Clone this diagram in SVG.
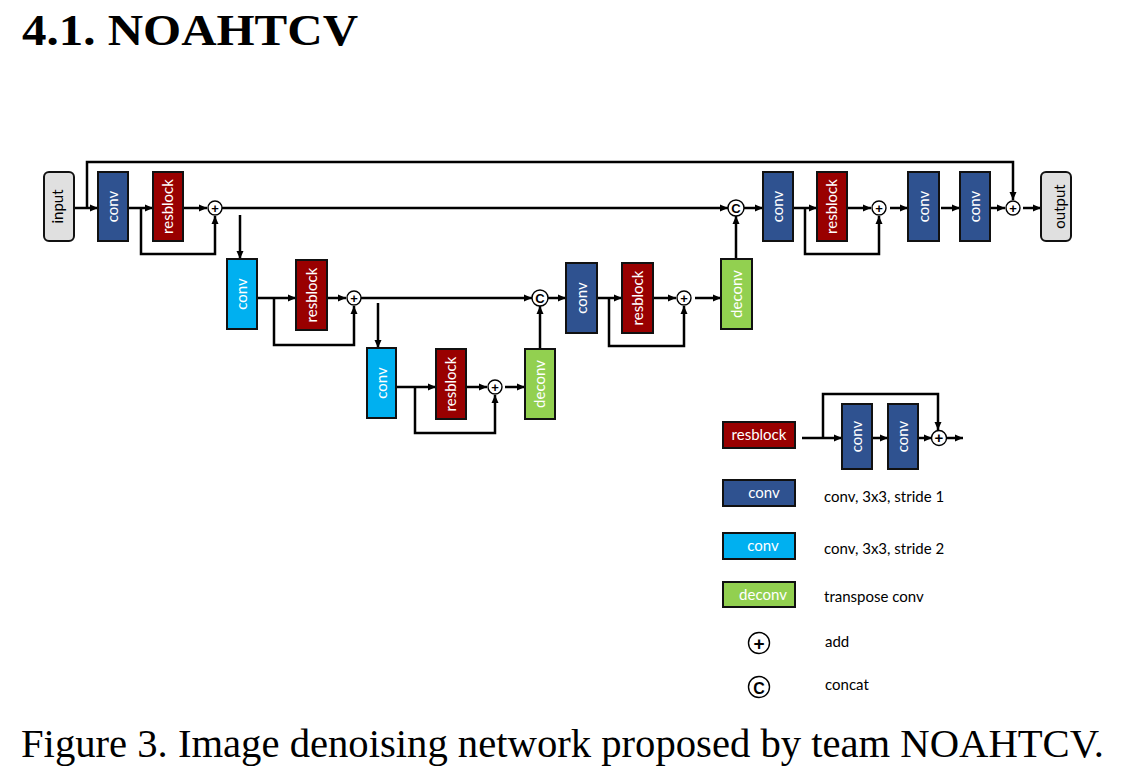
<svg xmlns="http://www.w3.org/2000/svg" width="1121" height="781" viewBox="0 0 1121 781">
<style>
.box{stroke:#111;stroke-width:2}
.conv{fill:#2f5290}
.conv2{fill:#00b0f0}
.res{fill:#990000}
.deconv{fill:#92d050}
.io{fill:#e0e0e0}
.lbl{font-family:Lato,"Open Sans",sans-serif;font-size:15px;fill:#fff;text-anchor:middle}
.lblk{font-family:Lato,"Open Sans",sans-serif;font-size:15px;fill:#000;text-anchor:middle}
.op{fill:#fff;stroke:#000;stroke-width:1.4}
.opt{font-family:"Liberation Sans",Arial,sans-serif;font-weight:bold;font-size:13px;fill:#000;text-anchor:middle}
.optL{font-family:"Liberation Sans",Arial,sans-serif;font-weight:bold;font-size:19px;fill:#000;text-anchor:middle}
.legt{font-family:Lato,"Open Sans",sans-serif;font-size:15px;fill:#000}
.serif{font-family:"Liberation Serif","Times New Roman",serif;fill:#000}
.wire{fill:none;stroke:#000;stroke-width:2.5}
.arr{marker-end:url(#ah)}
</style>
<defs>
<marker id="ah" viewBox="0 0 8 8" refX="8" refY="4" markerWidth="8" markerHeight="8" markerUnits="userSpaceOnUse" orient="auto">
<path d="M0,0.5 L8,4 L0,7.5 z" fill="#000"/>
</marker>
</defs>
<rect width="1121" height="781" fill="#fff"/>

<text class="serif" x="22" y="45" style="font-weight:bold;font-size:44px" textLength="336" lengthAdjust="spacingAndGlyphs">4.1. NOAHTCV</text>

<g id="connectors">
<path class="wire arr" d="M74,208 H98"/>
<path class="wire arr" d="M87,208 V162 H1013 V200"/>
<path class="wire arr" d="M128,208 H153"/>
<path class="wire arr" d="M141,208 V254 H215 V216"/>
<path class="wire arr" d="M183,208 H207"/>
<path class="wire arr" d="M222,208 H728"/>
<path class="wire arr" d="M240,215 V259"/>
<path class="wire arr" d="M744,208 H763"/>
<path class="wire arr" d="M793,208 H817"/>
<path class="wire arr" d="M805,208 V254 H879 V216"/>
<path class="wire arr" d="M847,208 H871"/>
<path class="wire arr" d="M890,208 H908"/>
<path class="wire arr" d="M941,208 H960"/>
<path class="wire arr" d="M989,208 H1005"/>
<path class="wire arr" d="M1023,208 H1041"/>
<path class="wire arr" d="M736,259 V216"/>
<path class="wire arr" d="M257,298 H296"/>
<path class="wire arr" d="M274,298 V345 H354 V306"/>
<path class="wire arr" d="M327,298 H346"/>
<path class="wire arr" d="M361,298 H532"/>
<path class="wire arr" d="M378,303 V348"/>
<path class="wire arr" d="M548,298 H566"/>
<path class="wire arr" d="M597,298 H622"/>
<path class="wire arr" d="M609,298 V346 H684 V306"/>
<path class="wire arr" d="M653,298 H676"/>
<path class="wire arr" d="M695,298 H721"/>
<path class="wire arr" d="M540,349 V306"/>
<path class="wire arr" d="M396,387 H436"/>
<path class="wire arr" d="M415,387 V433 H495 V395"/>
<path class="wire arr" d="M466,387 H487"/>
<path class="wire arr" d="M505,387 H525"/>
<path class="wire arr" d="M802,438 H842"/>
<path class="wire arr" d="M823,438 V394 H938 V430"/>
<path class="wire arr" d="M872,438 H888"/>
<path class="wire arr" d="M918,438 H932"/>
<path class="wire arr" d="M946,438 H963"/>
</g>

<g id="input"><rect class="box io" x="44" y="172" width="30" height="69" rx="5"/><text class="lblk" transform="translate(59,206.5) rotate(-90)" y="4">input</text></g>
<g id="conv1"><rect class="box conv" x="98" y="172" width="30" height="69"/><text class="lbl" transform="translate(113,206.5) rotate(-90)" y="5">conv</text></g>
<g id="resblock1"><rect class="box res" x="153" y="172" width="30" height="69"/><text class="lbl" transform="translate(168,206.5) rotate(-90)" y="5">resblock</text></g>
<g id="add1"><circle class="op" cx="215" cy="208" r="7"/><text class="opt" x="215" y="212.5">+</text></g>

<g id="conv2"><rect class="box conv2" x="227" y="259" width="30" height="70"/><text class="lbl" transform="translate(242,294) rotate(-90)" y="5">conv</text></g>
<g id="resblock2"><rect class="box res" x="296" y="260" width="31" height="70"/><text class="lbl" transform="translate(311.5,295) rotate(-90)" y="5">resblock</text></g>
<g id="add2"><circle class="op" cx="354" cy="298" r="7"/><text class="opt" x="354" y="302.5">+</text></g>

<g id="conv3"><rect class="box conv2" x="367" y="348" width="29" height="70"/><text class="lbl" transform="translate(381.5,383) rotate(-90)" y="5">conv</text></g>
<g id="resblock3"><rect class="box res" x="436" y="349" width="30" height="70"/><text class="lbl" transform="translate(451,384) rotate(-90)" y="5">resblock</text></g>
<g id="add3"><circle class="op" cx="495" cy="387" r="7"/><text class="opt" x="495" y="391.5">+</text></g>
<g id="deconv1"><rect class="box deconv" x="525" y="349" width="30" height="70"/><text class="lbl" transform="translate(540,384) rotate(-90)" y="5">deconv</text></g>

<g id="concat2"><circle class="op" cx="540" cy="298" r="8"/><text class="opt" x="540" y="302.5">C</text></g>
<g id="conv4"><rect class="box conv" x="566" y="263" width="31" height="70"/><text class="lbl" transform="translate(581.5,298) rotate(-90)" y="5">conv</text></g>
<g id="resblock4"><rect class="box res" x="622" y="263" width="31" height="70"/><text class="lbl" transform="translate(637.5,298) rotate(-90)" y="5">resblock</text></g>
<g id="add4"><circle class="op" cx="684" cy="298" r="7"/><text class="opt" x="684" y="302.5">+</text></g>
<g id="deconv2"><rect class="box deconv" x="721" y="259" width="31" height="70"/><text class="lbl" transform="translate(736.5,294) rotate(-90)" y="5">deconv</text></g>

<g id="concat1"><circle class="op" cx="736" cy="208" r="8"/><text class="opt" x="736" y="212.5">C</text></g>
<g id="conv5"><rect class="box conv" x="763" y="172" width="30" height="69"/><text class="lbl" transform="translate(778,206.5) rotate(-90)" y="5">conv</text></g>
<g id="resblock5"><rect class="box res" x="817" y="172" width="30" height="69"/><text class="lbl" transform="translate(832,206.5) rotate(-90)" y="5">resblock</text></g>
<g id="add5"><circle class="op" cx="879" cy="208" r="7"/><text class="opt" x="879" y="212.5">+</text></g>
<g id="conv6"><rect class="box conv" x="908" y="172" width="31" height="69"/><text class="lbl" transform="translate(923.5,206.5) rotate(-90)" y="5">conv</text></g>
<g id="conv7"><rect class="box conv" x="960" y="172" width="30" height="69"/><text class="lbl" transform="translate(975,206.5) rotate(-90)" y="5">conv</text></g>
<g id="add6"><circle class="op" cx="1013" cy="208" r="7"/><text class="opt" x="1013" y="212.5">+</text></g>
<g id="output"><rect class="box io" x="1041" y="172" width="30" height="69" rx="5"/><text class="lblk" transform="translate(1056,206.5) rotate(-90)" y="9">output</text></g>

<g id="legend">
<g id="leg-resblock"><rect class="box res" x="723" y="422" width="72" height="26"/><text class="lbl" x="759" y="440">resblock</text></g>
<g id="leg-res-convA"><rect class="box conv" x="842" y="404" width="30" height="65"/><text class="lbl" transform="translate(857,436.5) rotate(-90)" y="5">conv</text></g>
<g id="leg-res-convB"><rect class="box conv" x="888" y="404" width="30" height="65"/><text class="lbl" transform="translate(903,436.5) rotate(-90)" y="5">conv</text></g>
<g id="leg-res-add"><circle class="op" cx="939" cy="438" r="7.5"/><text class="opt" x="939" y="443" style="font-size:15px">+</text></g>
<g id="leg-conv"><rect class="box conv" x="723" y="480" width="72" height="26"/><text class="lbl" x="764" y="498">conv</text></g>
<text class="legt" x="824" y="502">conv, 3x3, stride 1</text>
<g id="leg-conv2"><rect class="box conv2" x="723" y="533" width="72" height="26"/><text class="lbl" x="763" y="551">conv</text></g>
<text class="legt" x="824" y="554">conv, 3x3, stride 2</text>
<g id="leg-deconv"><rect class="box deconv" x="723" y="582" width="72" height="25"/><text class="lbl" x="763" y="600">deconv</text></g>
<text class="legt" x="824" y="602">transpose conv</text>
<g id="leg-add"><circle class="op" cx="759" cy="643" r="10.5"/><text class="optL" x="759" y="649.5">+</text></g>
<text class="legt" x="825" y="647">add</text>
<g id="leg-concat"><circle class="op" cx="759" cy="687" r="10.5"/><text class="optL" x="759" y="693.5" style="font-size:16px">C</text></g>
<text class="legt" x="825" y="690">concat</text>
</g>

<text class="serif" x="21" y="757" style="font-size:40px" textLength="1083" lengthAdjust="spacingAndGlyphs">Figure 3. Image denoising network proposed by team NOAHTCV.</text>
</svg>
